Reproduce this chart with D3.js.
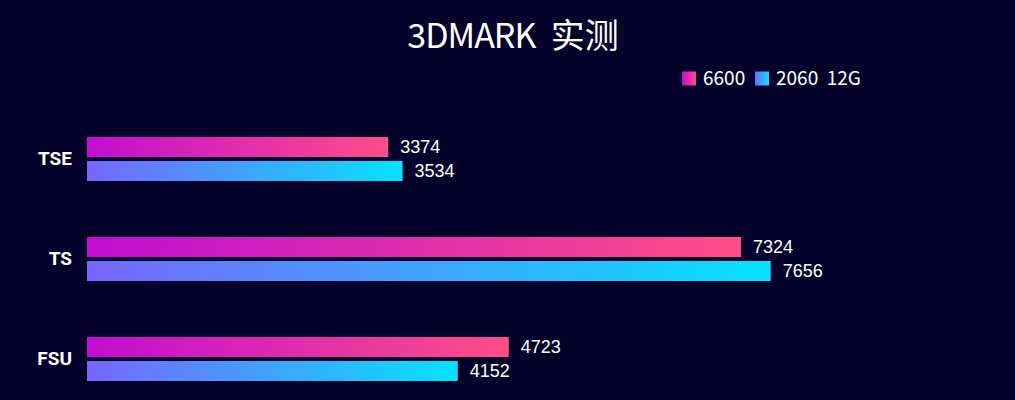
<!DOCTYPE html>
<html>
<head>
<meta charset="utf-8">
<script src="https://cdn.jsdelivr.net/npm/d3@7/dist/d3.min.js"></script>
<style>
html,body{margin:0;padding:0;background:#04022a;}
svg{display:block;}
</style>
</head>
<body>
<svg id="chart" width="1015" height="400"></svg>
<script>
const categories = ["TSE", "TS", "FSU"];
const seriesNames = ["6600", "2060  12G"];
const series6600 = [3374, 7324, 4723];
const series2060 = [3534, 7656, 4152];

const W = 1015, H = 400;
const svg = d3.select("#chart");
svg.append("rect").attr("width", W).attr("height", H).attr("fill", "#04022a");

const defs = svg.append("defs");
const gradients = [
  {id: "gPink", from: "#c20dd2", to: "#ff4d87"},
  {id: "gBlue", from: "#7766ff", to: "#05e2ff"}
];
gradients.forEach(g => {
  const lg = defs.append("linearGradient").attr("id", g.id)
    .attr("x1", "0%").attr("y1", "0%").attr("x2", "100%").attr("y2", "0%");
  lg.append("stop").attr("offset", "0%").attr("stop-color", g.from);
  lg.append("stop").attr("offset", "100%").attr("stop-color", g.to);
});

const x = d3.scaleLinear().domain([0, 10000]).range([87, 980]);
const y = d3.scaleBand().domain(categories).range([109, 409]);

const data = [series6600, series2060];
const barH = 20, gap = 2;

// Category axis labels
const yAxis = d3.axisLeft(y).tickSize(0).tickPadding(15);
const gy = svg.append("g").attr("transform", "translate(87,0)").call(yAxis);
gy.select(".domain").remove();
gy.selectAll("text")
  .attr("fill", "#ffffff")
  .attr("font-family", "Roboto, 'Liberation Sans', sans-serif")
  .attr("font-weight", "bold")
  .attr("font-size", 19);

data.forEach((vals, si) => {
  const g = svg.append("g");
  const yOff = si === 0 ? -gap - barH : gap;
  g.selectAll("rect").data(vals).join("rect")
    .attr("x", x(0))
    .attr("y", (d, i) => y(categories[i]) + y.bandwidth() / 2 + yOff)
    .attr("width", d => x(d) - x(0))
    .attr("height", barH)
    .attr("fill", `url(#${gradients[si].id})`);
  g.selectAll("text").data(vals).join("text")
    .attr("x", d => x(d) + 12)
    .attr("y", (d, i) => y(categories[i]) + y.bandwidth() / 2 + yOff + barH / 2)
    .attr("dy", "0.35em")
    .attr("fill", "#ffffff")
    .attr("font-family", "'Liberation Sans', Arial, sans-serif")
    .attr("font-size", 18)
    .text(d => d);
});

// Title
const title = svg.append("text")
  .attr("x", 513).attr("y", 48)
  .attr("text-anchor", "middle")
  .attr("fill", "#ffffff")
  .attr("font-family", "'Noto Sans CJK SC', sans-serif")
  .attr("font-size", 34)
  .style("white-space", "pre");
title.append("tspan").attr("letter-spacing", -1).text("3DMARK");
title.append("tspan").text("  实测");

// Legend
const legendX = [682, 755];
seriesNames.forEach((name, i) => {
  svg.append("rect")
    .attr("x", legendX[i]).attr("y", 71.5)
    .attr("width", 14).attr("height", 14)
    .attr("fill", `url(#${gradients[i].id})`);
  svg.append("text")
    .attr("x", legendX[i] + 21).attr("y", 78.5)
    .attr("dy", "0.36em")
    .attr("fill", "#ffffff")
    .attr("font-family", "'Noto Sans CJK SC', sans-serif")
    .attr("font-size", 19)
    .style("white-space", "pre")
    .text(name);
});
</script>
</body>
</html>
